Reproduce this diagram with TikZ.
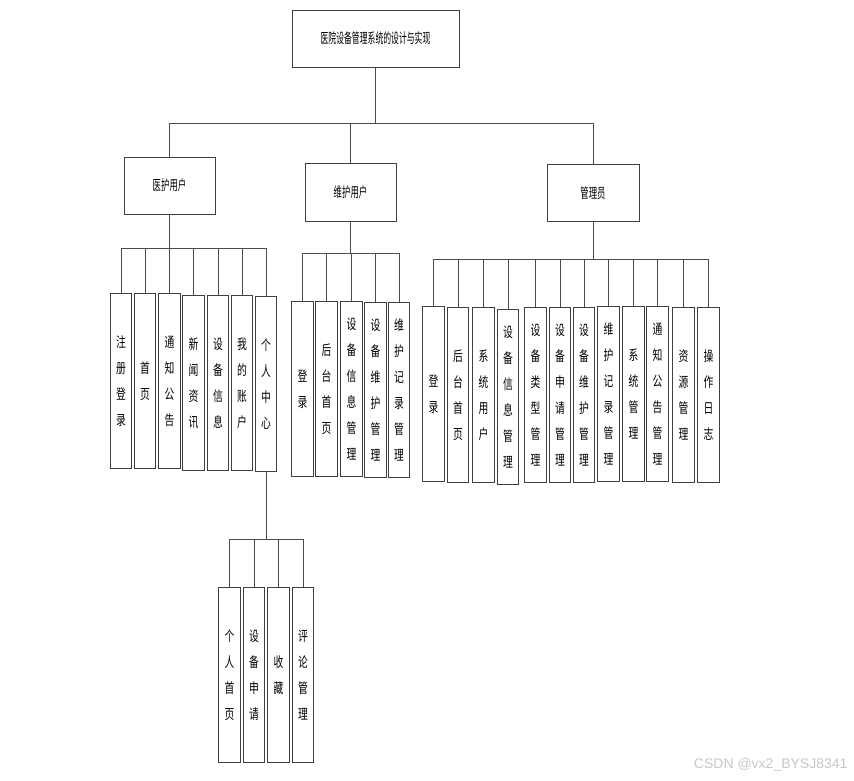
\documentclass[tikz,border=0pt]{standalone}
\usepackage{fontspec}
\usepackage{tikz}
\newfontfamily\cjkroot[FakeStretch=0.56]{Noto Sans CJK SC}
\newfontfamily\cjkfont[FakeStretch=0.6]{Noto Sans CJK SC}
\newfontfamily\cjkleaf[FakeStretch=0.7]{Noto Sans CJK SC}
\newfontfamily\wmfont{Liberation Sans}

\tikzset{
    topbox/.style={draw=black!75, line width=1pt, fill=white, inner sep=0pt},
    leafbox/.style={draw=black!75, line width=1pt, fill=white, inner sep=0pt,
        minimum width=21.5pt, minimum height=175pt, align=center,
        font=\cjkleaf\fontsize{14}{26}\selectfont},
    link/.style={draw=black!70, line width=1pt}
}

\begin{document}
\begin{tikzpicture}[x=1pt, y=-1pt]
    \useasboundingbox (0,0) rectangle (854,780);

    % Draw nodes
    \node[topbox, minimum width=167pt, minimum height=57pt, font=\cjkroot\fontsize{14}{16}\selectfont] (root) at (375.5,38.5) {医院设备管理系统的设计与实现};
    \node[topbox, minimum width=91pt, minimum height=57pt, font=\cjkfont\fontsize{14}{16}\selectfont] (yh) at (169.5,185.5) {医护用户};
    \node[topbox, minimum width=91pt, minimum height=58pt, font=\cjkfont\fontsize{14}{16}\selectfont] (wh) at (350.5,192) {维护用户};
    \node[topbox, minimum width=92pt, minimum height=57pt, font=\cjkfont\fontsize{14}{16}\selectfont] (gly) at (593,193) {管理员};

    % 医护用户
    \node[leafbox] (yh1) at (121,381) {注\\册\\登\\录};
    \node[leafbox] (yh2) at (145,381) {首\\页};
    \node[leafbox] (yh3) at (169.5,381) {通\\知\\公\\告};
    \node[leafbox] (yh4) at (193.5,383) {新\\闻\\资\\讯};
    \node[leafbox] (yh5) at (218,383) {设\\备\\信\\息};
    \node[leafbox] (yh6) at (242,383) {我\\的\\账\\户};
    \node[leafbox] (yh7) at (266,384) {个\\人\\中\\心};

    % 个人中心
    \node[leafbox] (gr1) at (229.5,675) {个\\人\\首\\页};
    \node[leafbox] (gr2) at (254,675) {设\\备\\申\\请};
    \node[leafbox] (gr3) at (278.5,675) {收\\藏};
    \node[leafbox] (gr4) at (303,675) {评\\论\\管\\理};

    % 维护用户
    \node[leafbox] (wh1) at (302.5,389) {登\\录};
    \node[leafbox] (wh2) at (326.5,389) {后\\台\\首\\页};
    \node[leafbox] (wh3) at (351.5,389) {设\\备\\信\\息\\管\\理};
    \node[leafbox] (wh4) at (375.5,390) {设\\备\\维\\护\\管\\理};
    \node[leafbox] (wh5) at (399,390) {维\\护\\记\\录\\管\\理};

    % 管理员
    \node[leafbox] (gly1) at (433.5,394) {登\\录};
    \node[leafbox] (gly2) at (458,395) {后\\台\\首\\页};
    \node[leafbox] (gly3) at (483.5,395) {系\\统\\用\\户};
    \node[leafbox] (gly4) at (508,397) {设\\备\\信\\息\\管\\理};
    \node[leafbox] (gly5) at (535.5,395) {设\\备\\类\\型\\管\\理};
    \node[leafbox] (gly6) at (560,395) {设\\备\\申\\请\\管\\理};
    \node[leafbox] (gly7) at (584,395) {设\\备\\维\\护\\管\\理};
    \node[leafbox] (gly8) at (608.5,394) {维\\护\\记\\录\\管\\理};
    \node[leafbox] (gly9) at (633.5,394) {系\\统\\管\\理};
    \node[leafbox] (gly10) at (657.5,394) {通\\知\\公\\告\\管\\理};
    \node[leafbox] (gly11) at (683.5,395) {资\\源\\管\\理};
    \node[leafbox] (gly12) at (708.5,395) {操\\作\\日\\志};

    % Bus points
    \coordinate (rootbus) at (375.5,123);
    \coordinate (yhbus) at (169.5,248);
    \coordinate (grbus) at (266,539);
    \coordinate (whbus) at (350.5,253);
    \coordinate (glybus) at (593,259);

    % Draw connections
    \draw[link] (root.south) -- (rootbus);
    \draw[link] (rootbus) -| (yh.north);
    \draw[link] (rootbus) -| (wh.north);
    \draw[link] (rootbus) -| (gly.north);

    \draw[link] (yh.south) -- (yhbus);
    \draw[link] (yhbus) -| (yh1.north);
    \draw[link] (yhbus) -| (yh2.north);
    \draw[link] (yhbus) -| (yh3.north);
    \draw[link] (yhbus) -| (yh4.north);
    \draw[link] (yhbus) -| (yh5.north);
    \draw[link] (yhbus) -| (yh6.north);
    \draw[link] (yhbus) -| (yh7.north);

    \draw[link] (yh7.south) -- (grbus);
    \draw[link] (grbus) -| (gr1.north);
    \draw[link] (grbus) -| (gr2.north);
    \draw[link] (grbus) -| (gr3.north);
    \draw[link] (grbus) -| (gr4.north);

    \draw[link] (wh.south) -- (whbus);
    \draw[link] (whbus) -| (wh1.north);
    \draw[link] (whbus) -| (wh2.north);
    \draw[link] (whbus) -| (wh3.north);
    \draw[link] (whbus) -| (wh4.north);
    \draw[link] (whbus) -| (wh5.north);

    \draw[link] (gly.south) -- (glybus);
    \draw[link] (glybus) -| (gly1.north);
    \draw[link] (glybus) -| (gly2.north);
    \draw[link] (glybus) -| (gly3.north);
    \draw[link] (glybus) -| (gly4.north);
    \draw[link] (glybus) -| (gly5.north);
    \draw[link] (glybus) -| (gly6.north);
    \draw[link] (glybus) -| (gly7.north);
    \draw[link] (glybus) -| (gly8.north);
    \draw[link] (glybus) -| (gly9.north);
    \draw[link] (glybus) -| (gly10.north);
    \draw[link] (glybus) -| (gly11.north);
    \draw[link] (glybus) -| (gly12.north);

    % Watermark
    \node[anchor=east, text=black!22, font=\wmfont\fontsize{14}{16}\selectfont] (wm) at (851,765) {CSDN @vx2\_BYSJ8341};
\end{tikzpicture}
\end{document}
